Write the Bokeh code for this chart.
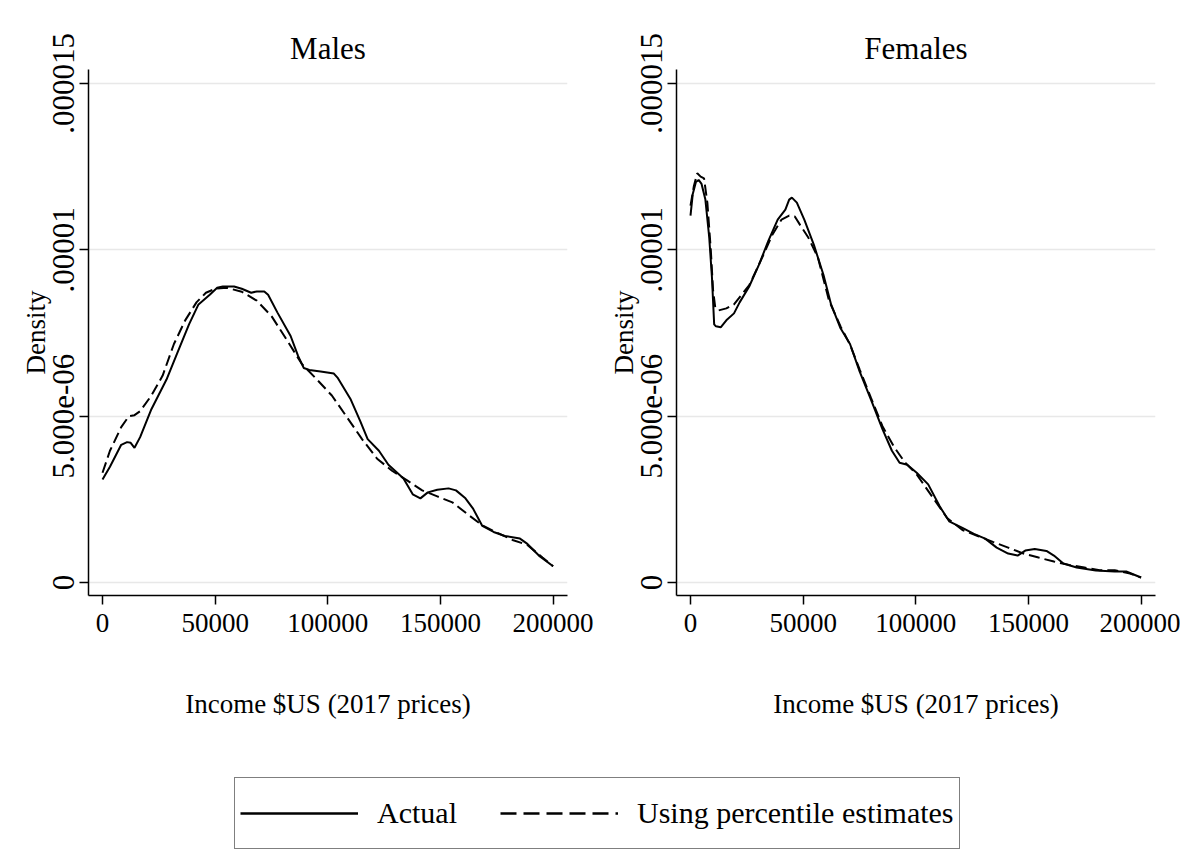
import numpy as np
from bokeh.plotting import figure
from bokeh.models import FixedTicker, Range1d, Legend, LegendItem, CustomJSTickFormatter
from bokeh.layouts import column, row
from bokeh.embed import file_html
from bokeh.resources import INLINE

FONT = "Liberation Serif"
DENS_UNIT = 1e-6  # densities below are listed in units of 1e-6

x_ticks = [0, 50000, 100000, 150000, 200000]
x_tick_labels = ["0", "50000", "100000", "150000", "200000"]
y_ticks = [0, 5e-6, 1e-5, 1.5e-5]
y_tick_labels = ["0", "5.000e-06", ".00001", ".000015"]

panel_titles = ["Males", "Females"]
x_title = "Income $US (2017 prices)"
y_title = "Density"
series_names = ["Actual", "Using percentile estimates"]

# Males - actual
male_act_x = [0, 3300, 8300, 10900, 12500, 14200, 16700, 21700, 28400, 33400, 38400, 42600,
              47600, 50900, 53400, 58400, 61800, 66000, 68500, 71800, 73500, 77600, 83500,
              86800, 89300, 91800, 96800, 102700, 104300, 110200, 114400, 117700, 122700,
              126900, 133600, 137700, 141100, 144400, 148600, 153600, 156900, 161100,
              164400, 168600, 173600, 178600, 185300, 188600, 193700, 200000]
male_act_y = [3.10, 3.48, 4.14, 4.22, 4.20, 4.05, 4.37, 5.21, 6.10, 6.93, 7.76, 8.36,
              8.65, 8.86, 8.90, 8.90, 8.83, 8.71, 8.75, 8.75, 8.65, 8.12, 7.41,
              6.81, 6.45, 6.39, 6.34, 6.28, 6.16, 5.50, 4.85, 4.31, 3.96,
              3.54, 3.13, 2.65, 2.53, 2.71, 2.79, 2.83, 2.77, 2.53,
              2.23, 1.70, 1.52, 1.40, 1.32, 1.16, 0.81, 0.49]

# Males - percentile estimates
male_est_x = [0, 3300, 8300, 11700, 14200, 16700, 21700, 26700, 31700, 36700, 41700, 45900,
              50100, 55100, 61800, 68500, 75100, 81800, 88500, 95200, 101800, 108500,
              115200, 121900, 128500, 135200, 141900, 148600, 155300, 161900, 168600,
              175300, 182000, 188600, 195300, 200000]
male_est_y = [3.30, 3.96, 4.67, 5.00, 5.03, 5.15, 5.62, 6.22, 7.17, 7.88, 8.42, 8.71,
              8.83, 8.86, 8.74, 8.47, 8.00, 7.29, 6.57, 6.10, 5.62, 4.97,
              4.31, 3.72, 3.36, 3.07, 2.77, 2.59, 2.41, 2.06, 1.72,
              1.49, 1.28, 1.13, 0.75, 0.49]

# Females - actual
fem_act_x = [0, 1000, 2400, 3600, 4900, 6600, 8300, 9500, 10500, 11300, 13400, 15900, 19300,
             21800, 26000, 30300, 34500, 38700, 42100, 43800, 45000, 47200, 50500, 54800,
             59000, 62400, 66600, 70800, 75100, 80100, 85200, 89400, 92800, 96200, 100400,
             105500, 110600, 114800, 120700, 125800, 130800, 135900, 141000, 145200,
             148600, 152800, 158000, 161300, 165500, 171400, 179900, 188300, 193400, 200000]
fem_act_y = [11.03, 11.68, 12.04, 12.10, 11.98, 11.51, 10.38, 9.19, 7.76, 7.70, 7.67, 7.88, 8.09,
             8.42, 8.89, 9.54, 10.26, 10.91, 11.21, 11.51, 11.57, 11.42, 10.91, 10.14,
             9.25, 8.36, 7.64, 7.17, 6.34, 5.50, 4.61, 3.96, 3.60, 3.54, 3.30,
             2.95, 2.29, 1.84, 1.64, 1.46, 1.32, 1.05, 0.87, 0.81,
             0.96, 1.01, 0.95, 0.81, 0.57, 0.45, 0.36, 0.33, 0.33, 0.15]

# Females - percentile estimates
fem_est_x = [0, 1500, 3000, 4500, 6000, 7500, 9000, 10000, 11000, 12500, 15900, 19300, 26000,
             31100, 36200, 40400, 43800, 46300, 48800, 52200, 56500, 61500, 66600, 70800,
             75100, 80100, 85200, 90300, 95300, 100400, 107200, 113900, 120700, 127500,
             134200, 141000, 147800, 154500, 161300, 168000, 174800, 181600, 188300,
             195100, 200000]
fem_est_y = [11.33, 11.92, 12.30, 12.20, 12.15, 11.40, 10.00, 8.80, 8.25, 8.18, 8.24, 8.36, 8.93,
             9.66, 10.44, 10.91, 11.03, 11.00, 10.73, 10.38, 9.78, 8.47, 7.70, 7.15,
             6.40, 5.55, 4.70, 4.08, 3.60, 3.25, 2.59, 1.94, 1.58, 1.40,
             1.22, 1.05, 0.87, 0.75, 0.63, 0.53, 0.45, 0.37, 0.37,
             0.27, 0.15]

FMT_CODE = """
let best = 0;
for (let i = 0; i < tvals.length; i++) {
  if (Math.abs(tvals[i] - tick) < Math.abs(tvals[best] - tick)) { best = i; }
}
return tlabels[best];
"""


def make_panel(title, ax, ay, ex, ey, mb_left, mb_right):
    p = figure(frame_width=479, frame_height=526,
               min_border_left=mb_left, min_border_right=mb_right,
               min_border_top=69, min_border_bottom=145,
               x_range=Range1d(-6220, 206400),
               y_range=Range1d(-0.39e-6, 15.42e-6),
               output_backend="svg", toolbar_location=None, title=title)
    p.outline_line_color = None
    p.background_fill_color = "white"
    p.border_fill_color = "white"
    p.title.text_font = FONT
    p.title.text_font_size = "31px"
    p.title.text_font_style = "normal"
    p.title.align = "center"
    p.title.text_color = "black"
    p.title.standoff = 8

    p.xaxis.ticker = FixedTicker(ticks=x_ticks)
    p.xaxis.formatter = CustomJSTickFormatter(args=dict(tvals=x_ticks, tlabels=x_tick_labels), code=FMT_CODE)
    p.yaxis.ticker = FixedTicker(ticks=y_ticks)
    p.yaxis.formatter = CustomJSTickFormatter(args=dict(tvals=y_ticks, tlabels=y_tick_labels), code=FMT_CODE)
    p.yaxis.major_label_orientation = "vertical"

    for axis in (p.xaxis[0], p.yaxis[0]):
        axis.axis_line_color = "black"
        axis.axis_line_width = 1.5
        axis.major_tick_line_color = "black"
        axis.major_tick_line_width = 1.5
        axis.major_tick_out = 9
        axis.major_tick_in = 0
        axis.minor_tick_line_color = None
        axis.major_label_text_font = FONT
        axis.major_label_text_color = "black"
        axis.axis_label_text_font = FONT
        axis.axis_label_text_font_size = "27px"
        axis.axis_label_text_font_style = "normal"
        axis.axis_label_text_color = "black"

    p.xaxis.major_label_text_font_size = "27px"
    p.xaxis.major_label_standoff = 9
    p.yaxis.major_label_text_font_size = "31px"
    p.yaxis.major_label_standoff = 5

    p.xaxis.axis_label = x_title
    p.xaxis.axis_label_standoff = 54
    p.yaxis.axis_label = y_title
    p.yaxis.axis_label_standoff = 0

    p.xgrid.visible = False
    p.ygrid.grid_line_color = "#e8e8e8"
    p.ygrid.grid_line_width = 1.5

    p.line([x for x in ax], [v * DENS_UNIT for v in ay], line_color="black", line_width=2)
    p.line([x for x in ex], [v * DENS_UNIT for v in ey], line_color="black", line_width=2,
           line_dash="11 5")
    return p


p1 = make_panel(panel_titles[0], male_act_x, male_act_y, male_est_x, male_est_y, 88, 29)
p2 = make_panel(panel_titles[1], fem_act_x, fem_act_y, fem_est_x, fem_est_y, 80, 25)

leg = figure(width=1180, height=116, min_border=0, x_range=(0, 1), y_range=(0, 1),
             x_axis_type=None, y_axis_type=None,
             toolbar_location=None, output_backend="svg")
leg.outline_line_color = None
leg.grid.visible = False
# legend-only renderers: their points lie outside the visible range
r1 = leg.line(x=[5, 6], y=[5, 6], line_color="black", line_width=2.5)
r2 = leg.line(x=[5, 6], y=[5, 6], line_color="black", line_width=2.5, line_dash="16 7")
legend = Legend(items=[LegendItem(label=series_names[0], renderers=[r1]),
                       LegendItem(label=series_names[1], renderers=[r2])],
                orientation="horizontal", location=(234, 7))
legend.border_line_color = "black"
legend.border_line_width = 1.5
legend.background_fill_color = "white"
legend.background_fill_alpha = 1
legend.label_text_font = FONT
legend.label_text_font_size = "30px"
legend.label_text_color = "black"
legend.glyph_width = 118
legend.glyph_height = 60
legend.label_standoff = 19
legend.spacing = 43
legend.padding = 5
legend.margin = 0
leg.add_layout(legend, "center")

layout = column(row(p1, p2), leg)
open("out.html", "w").write(file_html(layout, INLINE))
